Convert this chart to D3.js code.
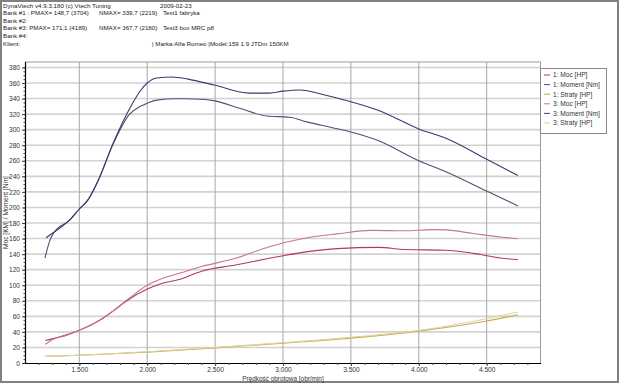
<!DOCTYPE html>
<html><head><meta charset="utf-8">
<script src="https://cdn.jsdelivr.net/npm/d3@7"></script>
<style>body{margin:0;background:#fff}svg{display:block;font-family:"Liberation Sans",Arial,sans-serif}</style>
</head><body><svg id="c" width="620" height="383"></svg>
<script>
const headerLines = [
  "DynaVtech v4.9.3.180 (c) Vtech Tuning",
  "Bank #1 : PMAX= 148,7 (3704)",
  "Bank #2:",
  "Bank #3: PMAX= 171,1 (4189)",
  "Bank #4:",
  "Klient:"
];
const headerDate = "2009-02-23";
const nmaxTexts = ["NMAX= 339,7 (2219)", "NMAX= 367,7 (2180)"];
const testTexts = ["Test1 fabryka", "Test3 box MRC p8"];
const carText = "| Marka:Alfa Romeo |Model:159 1.9 JTDm 150KM";

const xTicks = [1500, 2000, 2500, 3000, 3500, 4000, 4500];
const yTicks = [0,20,40,60,80,100,120,140,160,180,200,220,240,260,280,300,320,340,360,380];
const yTitle = "Moc [KM] / Moment [Nm]";
const xTitle = "Prędkość obrotowa [obr/min]";

const legendNames = ["1: Moc [HP]","1: Moment [Nm]","1: Straty [HP]","3: Moc [HP]","3: Moment [Nm]","3: Straty [HP]"];
const colors = ["#b03a5a","#4a5278","#c8a850","#c870a8","#3a3a70","#ddd4a0"];

const moc1 = [[1250,29],[1300,31],[1400,36],[1500,42],[1650,55],[1750,67],[1850,80],[2000,95],[2100,102],[2250,108],[2400,118],[2650,126],[2900,134.6],[3100,141],[3400,147],[3700,148.7],[3900,146],[4200,145],[4400,141],[4600,135],[4730,133]];
const moc3 = [[1250,24],[1300,30],[1400,35],[1500,42],[1650,55],[1750,67],[1850,81],[2000,100],[2100,108],[2250,116],[2400,124],[2650,134.6],[2900,149.5],[3150,160],[3400,166],[3650,170.5],[3900,170],[4100,171.5],[4200,171.1],[4400,166.5],[4600,162],[4730,160]];
const moment1 = [[1247,135],[1284,158],[1310,167],[1430,184],[1500,198],[1565,210],[1640,235],[1750,282],[1870,320],[1950,330],[2000,334],[2070,338],[2219,339.7],[2350,339.5],[2500,337],[2680,327.5],[2880,317.6],[3050,316],[3175,310],[3350,303],[3500,297],[3700,286],[4000,260],[4200,246],[4500,221],[4730,202]];
const moment3 = [[1255,161],[1320,169],[1430,184],[1500,198],[1565,210],[1640,235],[1750,283],[1870,327],[1950,350],[2000,360],[2070,366.5],[2180,367.7],[2300,365],[2500,357],[2750,347],[2900,347],[3000,349.5],[3125,351],[3300,345],[3500,336],[3700,325],[4000,301],[4200,289],[4500,262],[4730,241]];
const straty1 = [[1250,8.5],[1500,10],[2000,14],[2500,19.5],[3000,25.5],[3500,32],[4000,41],[4500,54],[4730,62]];
const straty3 = [[1250,8.5],[1500,10],[2000,14.5],[2500,20],[3000,26],[3500,33],[4000,42],[4500,57],[4730,65.5]];
const seriesData = [moc1, moment1, straty1, moc3, moment3, straty3];

const svg = d3.select("#c");
const L = 25, R = 541, T = 62, B = 363;
const x = d3.scaleLinear().domain([1100, 4900]).range([L, R]);
const y = d3.scaleLinear().domain([0, 387]).range([B, T]);

// outer frame
svg.append("rect").attr("x",1).attr("y",1).attr("width",617).attr("height",381)
  .attr("fill","none").attr("stroke","#808080").attr("stroke-width",2);

// header
const hg = svg.append("g").attr("font-size","6.2px").attr("fill","#222");
headerLines.forEach((t,i)=>hg.append("text").attr("x",3).attr("y",7.5+i*7.6).text(t));
hg.append("text").attr("x",160).attr("y",7.5).text(headerDate);
hg.append("text").attr("x",99).attr("y",7.5+7.6).text(nmaxTexts[0]);
hg.append("text").attr("x",99).attr("y",7.5+3*7.6).text(nmaxTexts[1]);
hg.append("text").attr("x",163).attr("y",7.5+7.6).text(testTexts[0]);
hg.append("text").attr("x",163).attr("y",7.5+3*7.6).text(testTexts[1]);
hg.append("text").attr("x",152).attr("y",7.5+5*7.6).text(carText);

// grid
const g = svg.append("g");
g.selectAll(".hg").data(yTicks.filter(d=>d>0)).join("line")
  .attr("x1",L).attr("x2",R).attr("y1",d=>y(d)).attr("y2",d=>y(d))
  .attr("stroke","#d2d2d2").attr("stroke-width",1.6);
g.selectAll(".vg").data(xTicks).join("line")
  .attr("x1",d=>x(d)).attr("x2",d=>x(d)).attr("y1",T).attr("y2",B)
  .attr("stroke","#a8a8a8").attr("stroke-width",1);
// plot border top/right
g.append("line").attr("x1",L).attr("x2",R).attr("y1",T).attr("y2",T).attr("stroke","#9a9a9a");
g.append("line").attr("x1",R-0.5).attr("x2",R-0.5).attr("y1",T).attr("y2",B).attr("stroke","#9a9a9a");

// axes
const xAxis = d3.axisBottom(x).tickValues(xTicks).tickSize(3).tickPadding(1)
  .tickFormat(d=>d3.format(",")(d).replace(",","."));
const xa = svg.append("g").attr("transform",`translate(0,${B})`).call(xAxis);
const xMinor = d3.axisBottom(x).tickValues(d3.range(1200,4900,100)).tickSize(2).tickFormat("");
svg.append("g").attr("transform",`translate(0,${B})`).call(xMinor).select(".domain").remove();
const yAxis = d3.axisLeft(y).tickValues(yTicks).tickSize(3).tickPadding(2);
const ya = svg.append("g").attr("transform",`translate(${L},0)`).call(yAxis);
const yMinor = d3.axisLeft(y).tickValues(d3.range(5,385,5)).tickSize(1.5).tickFormat("");
svg.append("g").attr("transform",`translate(${L},0)`).call(yMinor).select(".domain").remove();
[xa, ya].forEach(a=>{
  a.selectAll("text").attr("font-size","6.6px").attr("fill","#333").attr("font-family","Liberation Sans, Arial, sans-serif");
  a.select(".domain").attr("stroke","#000").attr("stroke-width",1.2);
});
xa.select(".domain").attr("d",`M${L},0.5H${R}`);
ya.select(".domain").attr("d",`M0.5,${T}V${B}`);
svg.selectAll(".tick line").attr("stroke","#444");

// titles
svg.append("text").attr("x",(L+R)/2).attr("y",380.5).attr("text-anchor","middle")
  .attr("font-size","6.4px").attr("fill","#333").text(xTitle);
svg.append("text").attr("transform",`translate(8,${(T+B)/2}) rotate(-90)`).attr("text-anchor","middle")
  .attr("font-size","6.6px").attr("fill","#333").text(yTitle);

// series
const line = d3.line().x(d=>x(d[0])).y(d=>y(d[1])).curve(d3.curveMonotoneX);
const drawOrder = [2,5,0,3,1,4];
drawOrder.forEach(i=>{
  svg.append("path").datum(seriesData[i]).attr("d",line)
    .attr("fill","none").attr("stroke",colors[i]).attr("stroke-width",1.1);
});

// legend
const lg = svg.append("g");
lg.append("rect").attr("x",540.5).attr("y",68.5).attr("width",66).attr("height",65)
  .attr("fill","#fff").attr("stroke","#8a8a8a");
legendNames.forEach((n,i)=>{
  const yy = 75+i*9.6;
  lg.append("line").attr("x1",544).attr("x2",550).attr("y1",yy).attr("y2",yy)
    .attr("stroke",colors[i]).attr("stroke-width",1);
  lg.append("text").attr("x",553).attr("y",yy).attr("dy","0.35em")
    .attr("font-size","6.6px").attr("fill","#333").text(n);
});
</script></body></html>
